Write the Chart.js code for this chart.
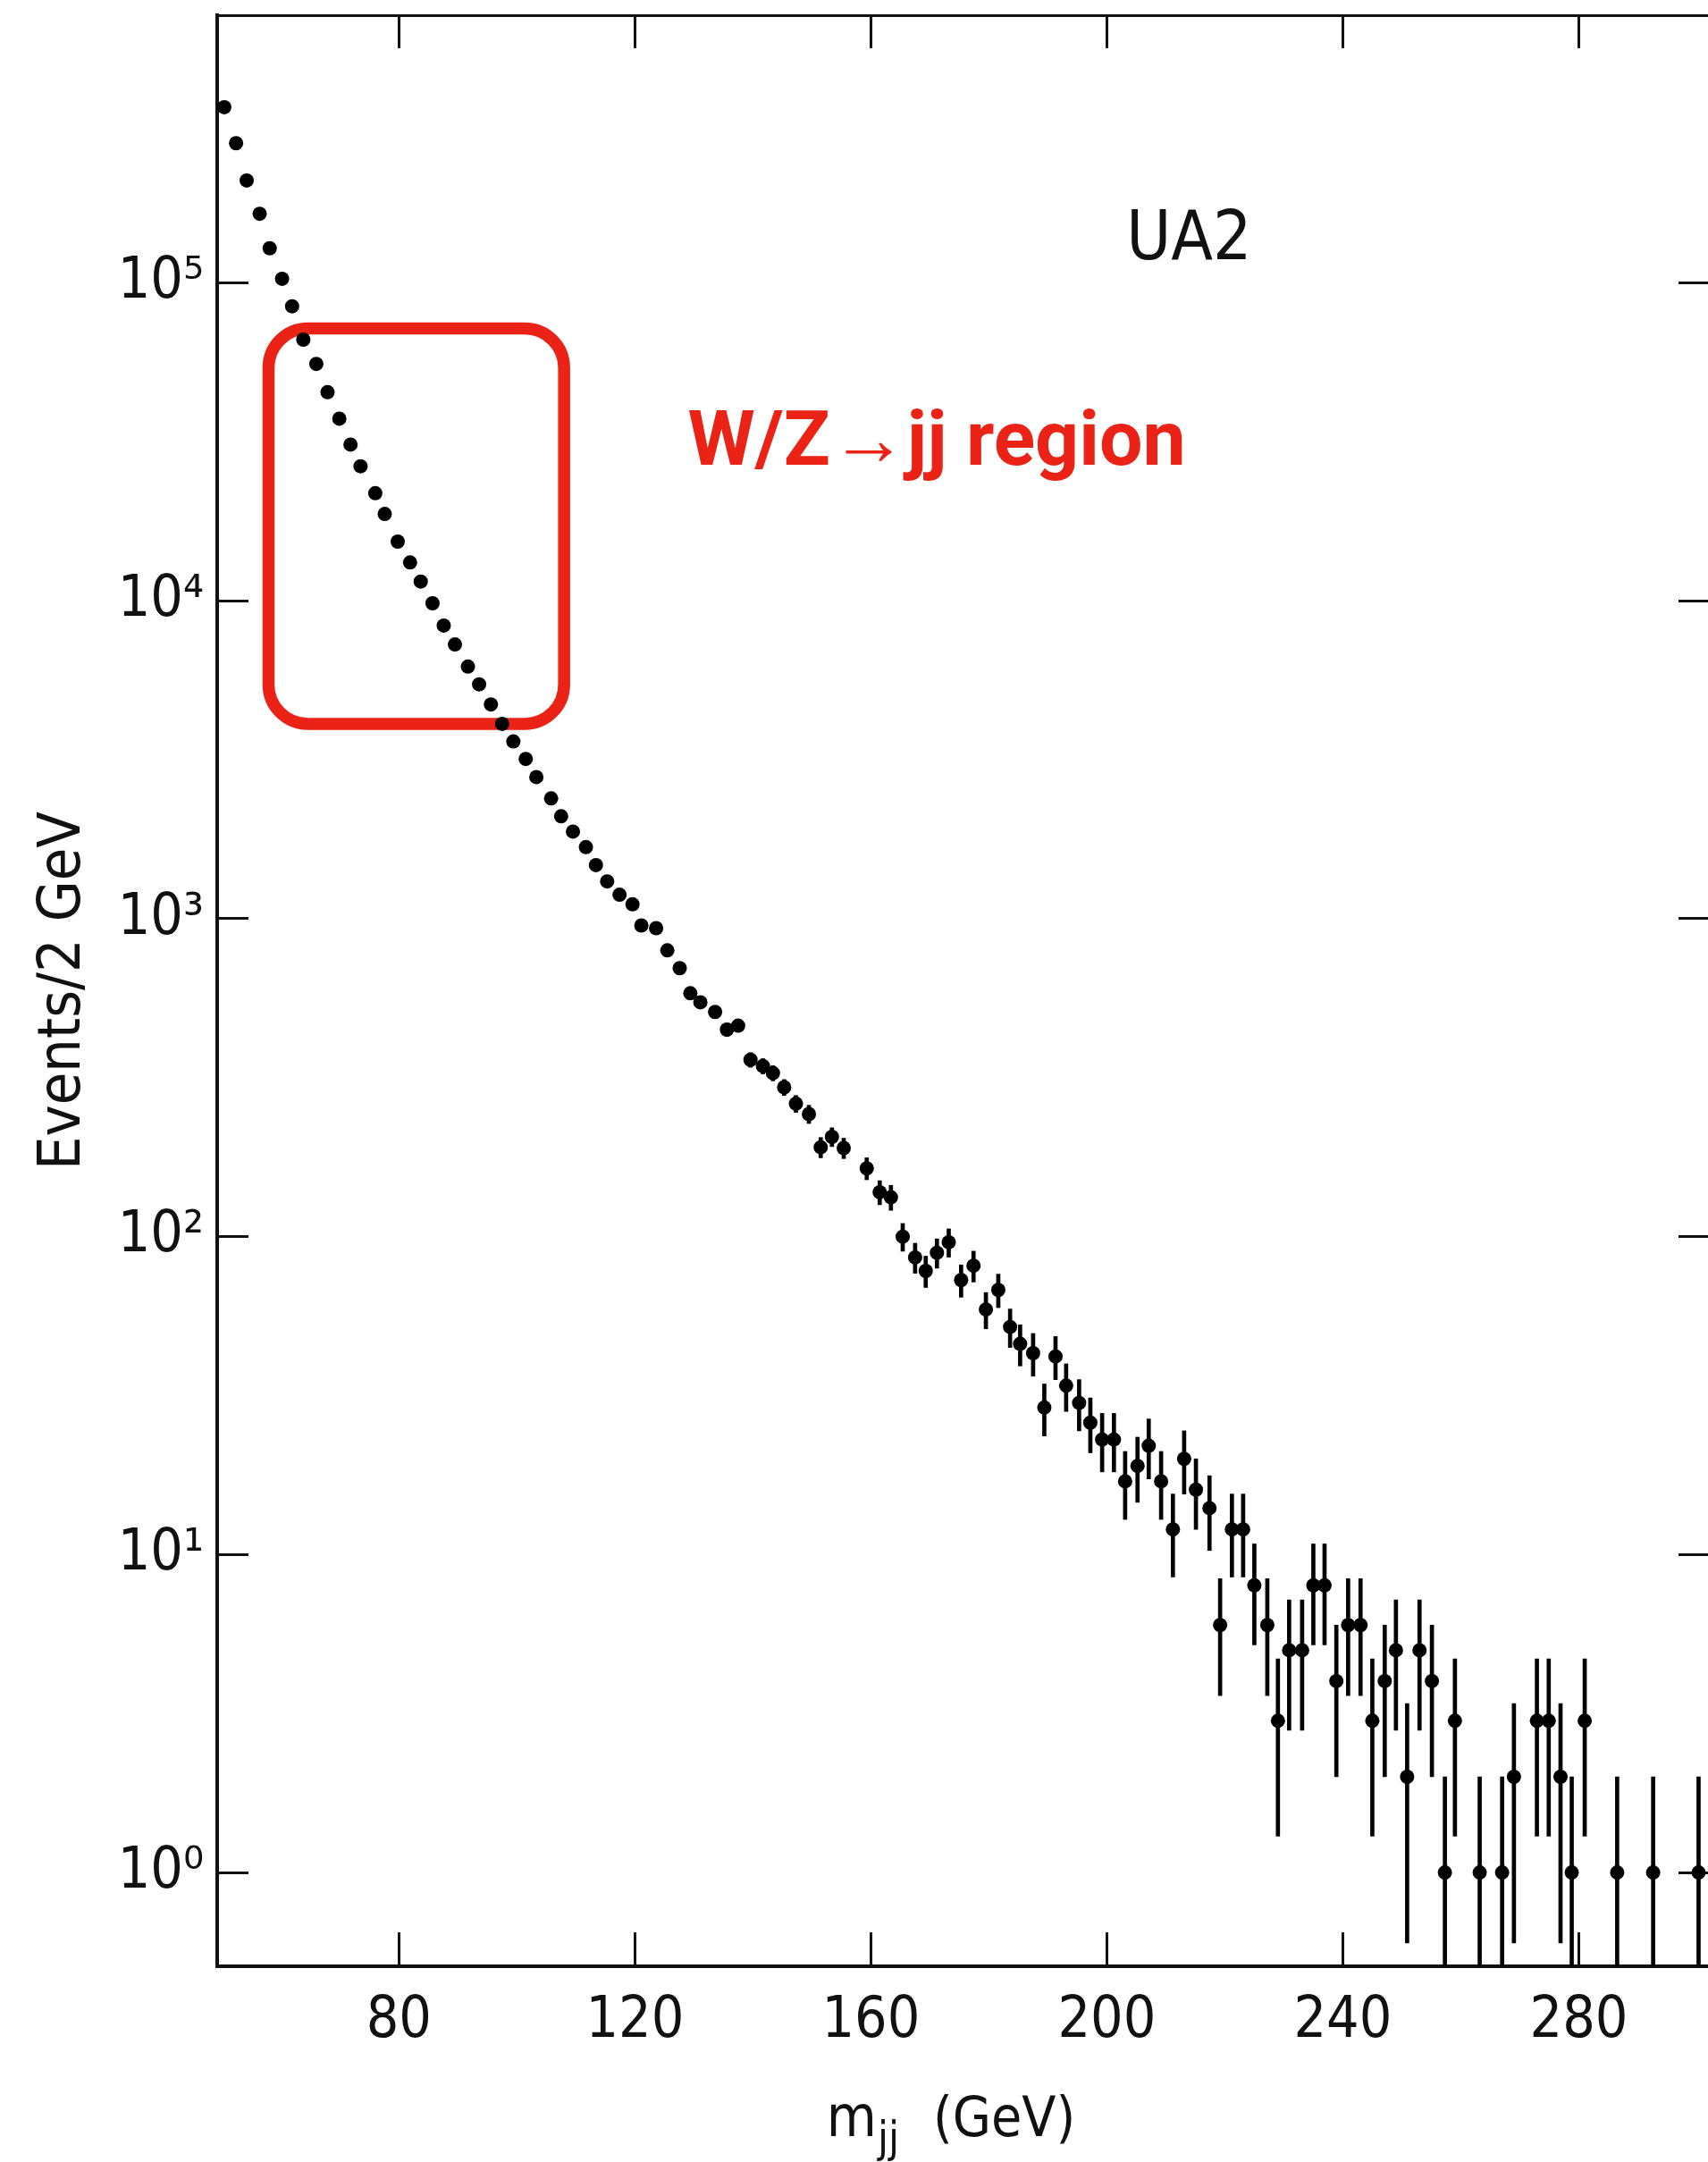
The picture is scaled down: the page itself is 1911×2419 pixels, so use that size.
<!DOCTYPE html>
<html>
<head>
<meta charset="utf-8">
<script src="https://cdn.jsdelivr.net/npm/chart.js@4.4.1/dist/chart.umd.min.js"></script>
<style>
  html, body { margin: 0; padding: 0; background: #ffffff; overflow: hidden; width: 1911px; height: 2419px; }
  #chart { position: absolute; left: 0; top: 0; }
</style>
</head>
<body>
<canvas id="chart" width="1930" height="2419"></canvas>
<script>
// ---------------- data ----------------
const massGeV = [
  50.4, 52.4, 54.2, 56.4, 58.1, 60.2, 61.9, 63.8, 66.0, 67.9,
  69.9, 71.8, 73.5, 76.0, 77.6, 79.8, 81.9, 83.7, 85.7, 87.6,
  89.5, 91.7, 93.6, 95.6, 97.5, 99.4, 101.5, 103.3, 105.8, 107.5,
  109.5, 111.7, 113.4, 115.3, 117.4, 119.6, 121.1, 123.6, 125.5, 127.6,
  129.4, 131.1, 133.6, 135.6, 137.5, 139.6, 141.7, 143.4, 145.3, 147.3,
  149.5, 151.5, 153.4, 155.4, 159.3, 161.5, 163.4, 165.4, 167.5, 169.3,
  171.2, 173.2, 175.3, 177.4, 179.5, 181.6, 183.6, 185.3, 187.5, 189.4,
  191.3, 193.1, 195.3, 197.2, 199.2, 201.2, 203.1, 205.2, 207.1, 209.2,
  211.2, 213.1, 215.1, 217.4, 219.2, 221.2, 223.1, 225.0, 227.2, 229.0,
  230.9, 233.1, 235.0, 236.9, 238.9, 240.9, 243.0, 245.0, 247.1, 249.0,
  250.9, 253.0, 255.1, 257.3, 259.0, 263.2, 267.0, 269.0, 272.9, 274.9,
  276.9, 278.8, 281.0, 286.5, 292.6, 300.3
];
const eventsPer2GeV = [
  357000, 275000, 210000, 165000, 128500, 103000, 84400, 66300, 55600, 45300,
  37400, 31000, 26500, 21800, 18750, 15350, 13200, 11500, 9820, 8360,
  7290, 6210, 5460, 4720, 4100, 3610, 3180, 2790, 2390, 2100,
  1880, 1680, 1475, 1310, 1190, 1110, 952, 934, 795, 699,
  583, 546, 509, 448, 461, 360, 344, 327, 295, 262,
  243, 191, 206, 190, 164, 138, 133, 100, 86, 78,
  89, 96, 73, 81, 59, 68, 52, 46, 43, 29,
  42, 34, 30, 26, 23, 23, 17, 19, 22, 17,
  12, 20, 16, 14, 6, 12, 12, 8, 6, 3,
  5, 5, 8, 8, 4, 6, 6, 3, 4, 5,
  2, 5, 4, 1, 3, 1, 1, 2, 3, 3,
  2, 1, 3, 1, 1, 1
];
const statError = [
  600, 525, 460, 405, 360, 320, 290, 260, 235, 213,
  193, 176, 163, 148, 137, 124, 115, 107, 99, 91,
  85, 79, 74, 69, 64, 60, 56, 53, 49, 46,
  43, 41, 38, 36, 34, 33, 31, 31, 28, 26,
  24, 23, 23, 21, 21, 19, 19, 18, 17, 16,
  16, 14, 14, 14, 13, 12, 12, 10, 9.3, 8.8,
  9.4, 9.8, 8.5, 9, 7.7, 8.2, 7.2, 6.8, 6.6, 5.4,
  6.5, 5.8, 5.5, 5.1, 4.8, 4.8, 4.1, 4.4, 4.7, 4.1,
  3.5, 4.5, 4, 3.7, 2.4, 3.5, 3.5, 2.8, 2.4, 1.7,
  2.2, 2.2, 2.8, 2.8, 2, 2.4, 2.4, 1.7, 2, 2.2,
  1.4, 2.2, 2, 1, 1.7, 1, 1, 1.4, 1.7, 1.7,
  1.4, 1, 1.7, 1, 1, 1
];
const xTickValues = [80, 120, 160, 200, 240, 280];
const xTickLabels = ['80', '120', '160', '200', '240', '280'];
const yTickValues = [1, 10, 100, 1000, 10000, 100000];
const yTickLabels = ['10\u2070', '10\u00B9', '10\u00B2', '10\u00B3', '10\u2074', '10\u2075'];
const xTitleParts = ['m', 'jj', '(GeV)'];
const yTitleText = 'Events/2 GeV';
const experimentText = 'UA2';
const regionText = 'W/Z\u2192jj region';

// ---------------- axis ranges ----------------
const X_MIN = 49.2, X_MAX = 302.2;
const Y_MIN = 0.507, Y_MAX = 695000;

// ---------------- styles ----------------
const INK = '#111111';
const RED = '#EB2316';
const TEXT_FONT = "'Liberation Sans Narrow', 'DejaVu Sans Condensed', 'Liberation Sans', Arial, sans-serif";
const RED_FONT = "Roboto, 'Liberation Sans', Arial, sans-serif";

// ---------------- derived tables ----------------
const points = massGeV.map((m, i) => ({ x: m, y: eventsPer2GeV[i] }));
const errorBars = massGeV.map((m, i) => ({
  x: m,
  y: [Math.max(eventsPer2GeV[i] - statError[i], Y_MIN), eventsPer2GeV[i] + statError[i]]
}));

const setXTicks = (s) => { s.ticks = xTickValues.map(v => ({ value: v })); };
const setYTicks = (s) => { s.ticks = yTickValues.map(v => ({ value: v })); };
const noPad = (s) => { s.paddingTop = 0; s.paddingBottom = 0; s.paddingLeft = 0; s.paddingRight = 0; };

const tickGrid = (len, w) => ({
  display: true, drawOnChartArea: false, drawTicks: true, offset: false,
  tickLength: len, tickWidth: w, tickColor: INK
});

// annotation: rounded box, texts, x-axis title
const overlayPlugin = {
  id: 'overlay',
  beforeDatasetsDraw(chart) {
    const { ctx, scales: { x, y } } = chart;
    const x0 = x.getPixelForValue(57.9), x1 = x.getPixelForValue(108.0);
    const y0 = y.getPixelForValue(71900), y1 = y.getPixelForValue(4100);
    ctx.save();
    ctx.strokeStyle = RED;
    ctx.lineWidth = 13.5;
    ctx.beginPath();
    ctx.roundRect(x0, y0, x1 - x0, y1 - y0, 44);
    ctx.stroke();
    ctx.restore();
  },
  afterDraw(chart) {
    const { ctx, scales: { x, y } } = chart;
    ctx.save();
    ctx.textAlign = 'left';
    ctx.textBaseline = 'alphabetic';
    // region label
    ctx.fillStyle = RED;
    ctx.font = `bold 86px ${RED_FONT}`;
    ctx.fillText(regionText, x.getPixelForValue(128.96), y.getPixelForValue(26800));
    // experiment label
    ctx.fillStyle = INK;
    ctx.font = `76px ${TEXT_FONT}`;
    ctx.fillText(experimentText, x.getPixelForValue(203.3), y.getPixelForValue(119000));
    // x-axis title: m_jj (GeV)
    const base = x.top + 190;
    let px = x.getPixelForValue(152.5);
    ctx.font = `64px ${TEXT_FONT}`;
    ctx.fillText(xTitleParts[0], px, base);
    px += ctx.measureText(xTitleParts[0]).width + 1;
    ctx.font = `48px ${TEXT_FONT}`;
    ctx.fillText(xTitleParts[1], px, base + 18);
    ctx.font = `62px ${TEXT_FONT}`;
    ctx.fillText(xTitleParts[2], x.getPixelForValue(170.55), base);
    ctx.restore();
  }
};

new Chart(document.getElementById('chart'), {
  type: 'scatter',
  data: {
    datasets: [
      {
        type: 'scatter',
        label: 'UA2 data',
        data: points,
        xAxisID: 'x', yAxisID: 'y',
        pointRadius: 8, pointHoverRadius: 8,
        pointBackgroundColor: '#000', pointBorderWidth: 0,
        showLine: false,
        order: 0
      },
      {
        type: 'bar',
        label: 'stat. error',
        data: errorBars,
        xAxisID: 'x', yAxisID: 'y',
        backgroundColor: '#000',
        borderWidth: 0,
        barThickness: 4,
        grouped: false,
        order: 1
      }
    ]
  },
  options: {
    responsive: false,
    animation: false,
    devicePixelRatio: 1,
    layout: { padding: { top: 17, right: 17, bottom: 0, left: 0 } },
    plugins: { legend: { display: false }, tooltip: { enabled: false } },
    scales: {
      x: {
        type: 'linear', position: 'bottom', min: X_MIN, max: X_MAX, offset: false,
        afterBuildTicks: setXTicks,
        afterFit: (s) => { s.height = 219; noPad(s); },
        border: { display: true, color: INK, width: 4 },
        grid: tickGrid(-38, 3),
        ticks: {
          color: INK, padding: 62, maxRotation: 0, autoSkip: false,
          font: { family: TEXT_FONT, size: 64 },
          callback: (v, i) => xTickLabels[i]
        }
      },
      xTop: {
        type: 'linear', position: 'top', min: X_MIN, max: X_MAX, offset: false,
        afterBuildTicks: setXTicks,
        afterFit: (s) => { s.height = 0; noPad(s); },
        border: { display: true, color: INK, width: 3 },
        grid: tickGrid(-37, 3),
        ticks: { display: false }
      },
      y: {
        type: 'logarithmic', position: 'left', min: Y_MIN, max: Y_MAX, offset: false,
        afterBuildTicks: setYTicks,
        afterFit: (s) => { s.width = 243; noPad(s); },
        border: { display: true, color: INK, width: 4 },
        grid: tickGrid(-35, 3),
        ticks: {
          color: INK, padding: 50, autoSkip: false,
          font: { family: TEXT_FONT, size: 64 },
          callback: (v, i) => yTickLabels[i]
        },
        title: {
          display: true, text: yTitleText, color: INK,
          font: { family: TEXT_FONT, size: 66 },
          padding: { top: 32, bottom: 0 }
        }
      },
      yRight: {
        type: 'logarithmic', position: 'right', min: Y_MIN, max: Y_MAX, offset: false,
        afterBuildTicks: setYTicks,
        afterFit: (s) => { s.width = 0; noPad(s); },
        border: { display: true, color: INK, width: 4 },
        grid: tickGrid(-35, 3),
        ticks: { display: false }
      }
    }
  },
  plugins: [overlayPlugin]
});
</script>
</body>
</html>
